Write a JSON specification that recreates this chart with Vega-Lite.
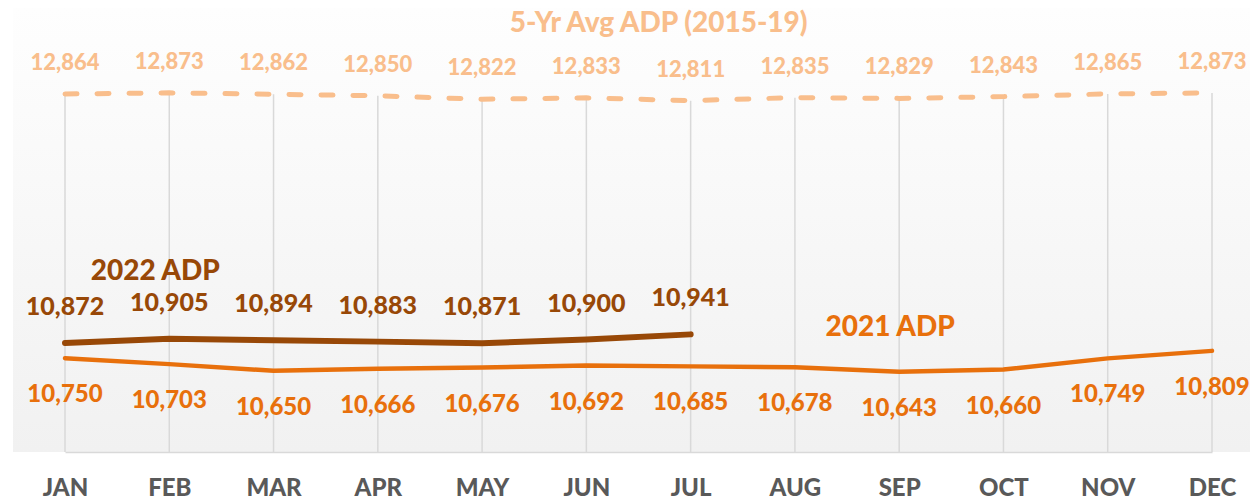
{
  "$schema": "https://vega.github.io/schema/vega-lite/v6.json",
  "width": 1237,
  "height": 444,
  "autosize": "none",
  "padding": {"left": 13, "top": 8, "right": 0, "bottom": 47},
  "background": "#FFFFFF",
  "view": {"stroke": null, "fill": {"gradient": "linear", "x1": 0, "y1": 0, "x2": 0, "y2": 1, "stops": [{"offset": 0, "color": "#FEFEFE"}, {"offset": 1, "color": "#F1F1F1"}]}},
  "data": {"values": [
    {"month": "JAN", "series": "5yr", "value": 12864},
    {"month": "FEB", "series": "5yr", "value": 12873},
    {"month": "MAR", "series": "5yr", "value": 12862},
    {"month": "APR", "series": "5yr", "value": 12850},
    {"month": "MAY", "series": "5yr", "value": 12822},
    {"month": "JUN", "series": "5yr", "value": 12833},
    {"month": "JUL", "series": "5yr", "value": 12811},
    {"month": "AUG", "series": "5yr", "value": 12835},
    {"month": "SEP", "series": "5yr", "value": 12829},
    {"month": "OCT", "series": "5yr", "value": 12843},
    {"month": "NOV", "series": "5yr", "value": 12865},
    {"month": "DEC", "series": "5yr", "value": 12873},
    {"month": "JAN", "series": "2021", "value": 10750},
    {"month": "FEB", "series": "2021", "value": 10703},
    {"month": "MAR", "series": "2021", "value": 10650},
    {"month": "APR", "series": "2021", "value": 10666},
    {"month": "MAY", "series": "2021", "value": 10676},
    {"month": "JUN", "series": "2021", "value": 10692},
    {"month": "JUL", "series": "2021", "value": 10685},
    {"month": "AUG", "series": "2021", "value": 10678},
    {"month": "SEP", "series": "2021", "value": 10643},
    {"month": "OCT", "series": "2021", "value": 10660},
    {"month": "NOV", "series": "2021", "value": 10749},
    {"month": "DEC", "series": "2021", "value": 10809},
    {"month": "JAN", "series": "2022", "value": 10872},
    {"month": "FEB", "series": "2022", "value": 10905},
    {"month": "MAR", "series": "2022", "value": 10894},
    {"month": "APR", "series": "2022", "value": 10883},
    {"month": "MAY", "series": "2022", "value": 10871},
    {"month": "JUN", "series": "2022", "value": 10900},
    {"month": "JUL", "series": "2022", "value": 10941}
  ]},
  "encoding": {
    "x": {
      "field": "month", "type": "ordinal", "sort": ["JAN","FEB","MAR","APR","MAY","JUN","JUL","AUG","SEP","OCT","NOV","DEC"],
      "scale": {"type": "point", "range": [52, 1199], "padding": 0},
      "axis": {"title": null, "ticks": false, "grid": false, "domainColor": "#D9D9D9", "domainWidth": 1.5, "labelFont": "Lato", "labelFontWeight": 900, "labelFontSize": 24, "labelColor": "#595959", "labelPadding": 24, "labelAngle": 0}
    },
    "y": {
      "field": "value", "type": "quantitative",
      "scale": {"domain": [10000, 13552], "nice": false, "zero": false},
      "axis": null
    }
  },
  "layer": [
    {
      "transform": [{"filter": "datum.series === '5yr'"}],
      "mark": {"type": "rule", "color": "#D9D9D9", "strokeWidth": 1.5},
      "encoding": {"y2": {"datum": 10000}}
    },
    {
      "transform": [{"filter": "datum.series === '5yr'"}],
      "mark": {"type": "line", "color": "#F9BE8C", "strokeWidth": 5, "strokeDash": [12, 20], "strokeCap": "round"}
    },
    {
      "transform": [{"filter": "datum.series === '2021'"}],
      "mark": {"type": "line", "color": "#E8700C", "strokeWidth": 4.5, "strokeCap": "round"}
    },
    {
      "transform": [{"filter": "datum.series === '2022'"}],
      "mark": {"type": "line", "color": "#984807", "strokeWidth": 6, "strokeCap": "round"}
    },
    {
      "transform": [{"filter": "datum.series === '5yr'"}],
      "mark": {"type": "text", "font": "Lato", "fontWeight": 900, "fontSize": 22, "color": "#F9BE8C", "dy": -31, "baseline": "middle"},
      "encoding": {"text": {"field": "value", "type": "quantitative", "format": ",d"}}
    },
    {
      "transform": [{"filter": "datum.series === '2021'"}],
      "mark": {"type": "text", "font": "Lato", "fontWeight": 900, "fontSize": 24, "color": "#E8700C", "dy": 37, "baseline": "middle"},
      "encoding": {"text": {"field": "value", "type": "quantitative", "format": ",d"}}
    },
    {
      "transform": [{"filter": "datum.series === '2022'"}],
      "mark": {"type": "text", "font": "Lato", "fontWeight": 900, "fontSize": 25, "color": "#984807", "dy": -36, "baseline": "middle"},
      "encoding": {"text": {"field": "value", "type": "quantitative", "format": ",d"}}
    },
    {
      "transform": [{"filter": "datum.series === '2022' && datum.month === 'JAN'"}],
      "mark": {"type": "text", "font": "Lato", "fontWeight": 900, "fontSize": 28, "color": "#984807", "baseline": "middle", "dx": -14},
      "encoding": {"x": {"datum": "FEB"}, "y": {"datum": 11438}, "text": {"value": "2022 ADP"}}
    },
    {
      "transform": [{"filter": "datum.series === '2021' && datum.month === 'JAN'"}],
      "mark": {"type": "text", "font": "Lato", "fontWeight": 900, "fontSize": 28, "color": "#E8700C", "baseline": "middle", "dx": -9},
      "encoding": {"x": {"datum": "SEP"}, "y": {"datum": 10990}, "text": {"value": "2021 ADP"}}
    },
    {
      "transform": [{"filter": "datum.series === '5yr' && datum.month === 'JAN'"}],
      "mark": {"type": "text", "font": "Lato", "fontWeight": 900, "fontSize": 28, "color": "#F9BE8C", "baseline": "middle", "dx": -32},
      "encoding": {"x": {"datum": "JUL"}, "y": {"datum": 13422}, "text": {"value": "5-Yr Avg ADP (2015-19)"}}
    }
  ]
}
